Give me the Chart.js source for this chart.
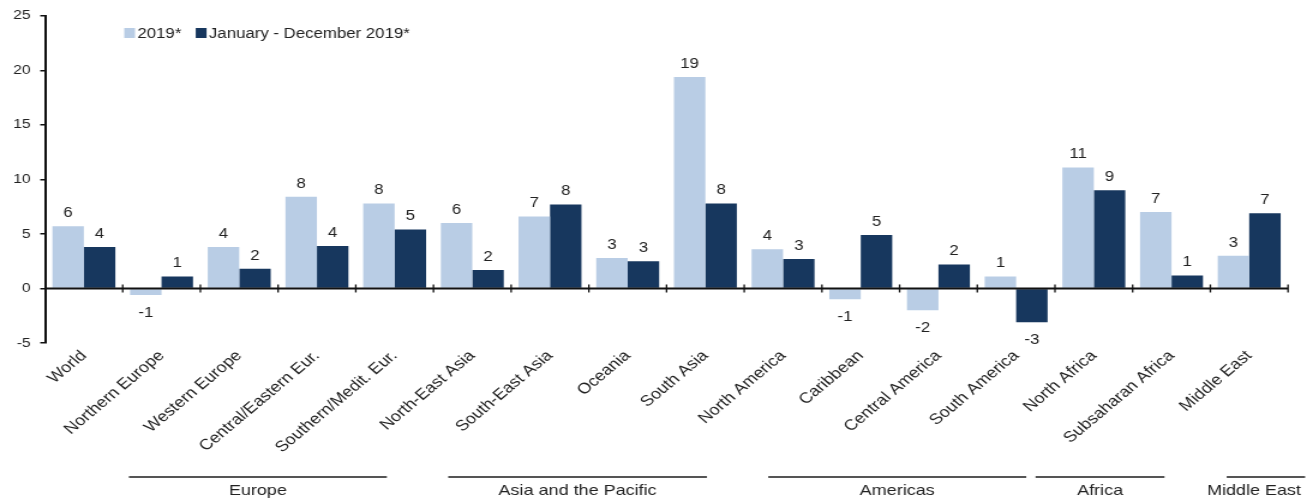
<!DOCTYPE html>
<html>
<head>
<meta charset="utf-8">
<script src="https://cdn.jsdelivr.net/npm/chart.js@4.4.1/dist/chart.umd.min.js"></script>
<style>
    html, body { margin: 0; padding: 0; background: #ffffff; }
    #wrap { width: 1313px; height: 500px; overflow: hidden; }
</style>
</head>
<body>
<div id="wrap">
    <!-- drawn at 1094 wide and widened to the page by css -->
    <canvas id="arrivals-chart" width="1094" height="500" style="width:1313px;height:500px;"></canvas>
</div>
<script>
const regions = [
    'World', 'Northern Europe', 'Western Europe', 'Central/Eastern Eur.', 'Southern/Medit. Eur.',
    'North-East Asia', 'South-East Asia', 'Oceania', 'South Asia',
    'North America', 'Caribbean', 'Central America', 'South America',
    'North Africa', 'Subsaharan Africa', 'Middle East'
];
const growth2019 = [5.7, -0.6, 3.8, 8.4, 7.8, 6.0, 6.6, 2.8, 19.4, 3.6, -1.0, -2.0, 1.1, 11.1, 7.0, 3.0];
const growthJanDec = [3.8, 1.1, 1.8, 3.9, 5.4, 1.7, 7.7, 2.5, 7.8, 2.7, 4.9, 2.2, -3.1, 9.0, 1.2, 6.9];
const seriesNames = ['2019*', 'January - December 2019*'];
const yTicks = [-5, 0, 5, 10, 15, 20, 25];
const groupNames = ['Europe', 'Asia and the Pacific', 'Americas', 'Africa', 'Middle East'];

const LIGHT = '#b9cde5';
const DARK = '#17375e';
const INK = '#222222';
const FONT = "'Liberation Sans', Arial, sans-serif";

// underline extents for the region groups, in category units
const groupLines = [[0.58, 3.9], [4.69, 8.02], [8.81, 12.13], [12.25, 13.91], [14.71, 15.72]];

const zeroLinePlugin = {
    id: 'zeroLine',
    afterDatasetsDraw(chart) {
        const { ctx, chartArea, scales: { x, y } } = chart;
        const y0 = y.getPixelForValue(0);
        ctx.save();
        ctx.strokeStyle = '#111111';
        ctx.lineWidth = 2;
        ctx.beginPath();
        ctx.moveTo(chartArea.left, y0);
        ctx.lineTo(chartArea.right, y0);
        ctx.stroke();
        ctx.lineWidth = 1.3;
        for (let i = 1; i <= regions.length; i++) {
            const px = x.getPixelForValue(i - 0.5);
            ctx.beginPath();
            ctx.moveTo(px, y0 - 4);
            ctx.lineTo(px, y0 + 4);
            ctx.stroke();
        }
        ctx.restore();
    }
};

const valueLabelPlugin = {
    id: 'valueLabels',
    afterDatasetsDraw(chart) {
        const { ctx } = chart;
        ctx.save();
        ctx.font = `14px ${FONT}`;
        ctx.fillStyle = INK;
        ctx.textAlign = 'center';
        ctx.textBaseline = 'middle';
        chart.data.datasets.forEach((ds, di) => {
            chart.getDatasetMeta(di).data.forEach((bar, i) => {
                const v = ds.data[i];
                const ty = v >= 0 ? bar.y - 13 : bar.y + 18;
                ctx.fillText(String(Math.round(v)), bar.x, ty);
            });
        });
        ctx.restore();
    }
};

const legendPlugin = {
    id: 'insideLegend',
    afterDraw(chart) {
        const { ctx } = chart;
        ctx.save();
        ctx.font = `14px ${FONT}`;
        ctx.textBaseline = 'middle';
        ctx.textAlign = 'left';
        let lx = 103.5;
        const ly = 33;
        chart.data.datasets.forEach(ds => {
            ctx.fillStyle = ds.backgroundColor;
            ctx.fillRect(lx, ly - 5, 9, 10);
            ctx.fillStyle = INK;
            ctx.fillText(ds.label, lx + 11, ly + 1);
            lx += 11 + ctx.measureText(ds.label).width + 12;
        });
        ctx.restore();
    }
};

const groupPlugin = {
    id: 'regionGroups',
    afterDraw(chart) {
        const { ctx, width, scales: { x } } = chart;
        ctx.save();
        ctx.font = `15px ${FONT}`;
        ctx.fillStyle = INK;
        ctx.textAlign = 'center';
        ctx.textBaseline = 'middle';
        ctx.strokeStyle = '#555555';
        ctx.lineWidth = 2;
        groupNames.forEach((name, i) => {
            const x1 = x.getPixelForValue(groupLines[i][0]);
            const x2 = x.getPixelForValue(groupLines[i][1]);
            ctx.beginPath();
            ctx.moveTo(x1, 477);
            ctx.lineTo(x2, 477);
            ctx.stroke();
            const w = ctx.measureText(name).width;
            let cx = (x1 + x2) / 2;
            if (cx + w / 2 > width - 10) cx = width - 10 - w / 2;
            ctx.fillText(name, cx, 491);
        });
        ctx.restore();
    }
};

new Chart(document.getElementById('arrivals-chart'), {
    type: 'bar',
    data: {
        labels: regions,
        datasets: [
            { label: seriesNames[0], data: growth2019, backgroundColor: LIGHT },
            { label: seriesNames[1], data: growthJanDec, backgroundColor: DARK }
        ]
    },
    options: {
        responsive: false,
        animation: false,
        devicePixelRatio: 1,
        layout: { padding: { top: 14, right: 20.8, left: 0, bottom: 0 } },
        datasets: {
            bar: { categoryPercentage: 0.81, barPercentage: 1.0, borderWidth: 0 }
        },
        plugins: {
            legend: { display: false },
            tooltip: { enabled: false }
        },
        scales: {
            x: {
                offset: true,
                grid: { display: false, drawTicks: false },
                border: { display: false },
                ticks: {
                    autoSkip: false,
                    minRotation: 45,
                    maxRotation: 45,
                    padding: 4,
                    color: INK,
                    font: { family: FONT, size: 15 }
                },
                afterFit(scale) { scale.height = 157; }
            },
            y: {
                min: -5,
                max: 25,
                afterBuildTicks(scale) { scale.ticks = yTicks.map(v => ({ value: v })); },
                grid: { drawOnChartArea: false, drawTicks: true, tickLength: 4, color: '#111111', lineWidth: 1.5 },
                border: { display: true, color: '#111111', width: 2 },
                ticks: {
                    padding: 8,
                    color: INK,
                    font: { family: FONT, size: 13 }
                },
                afterFit(scale) { scale.width = 37.5; }
            }
        }
    },
    plugins: [zeroLinePlugin, valueLabelPlugin, legendPlugin, groupPlugin]
});
</script>
</body>
</html>
